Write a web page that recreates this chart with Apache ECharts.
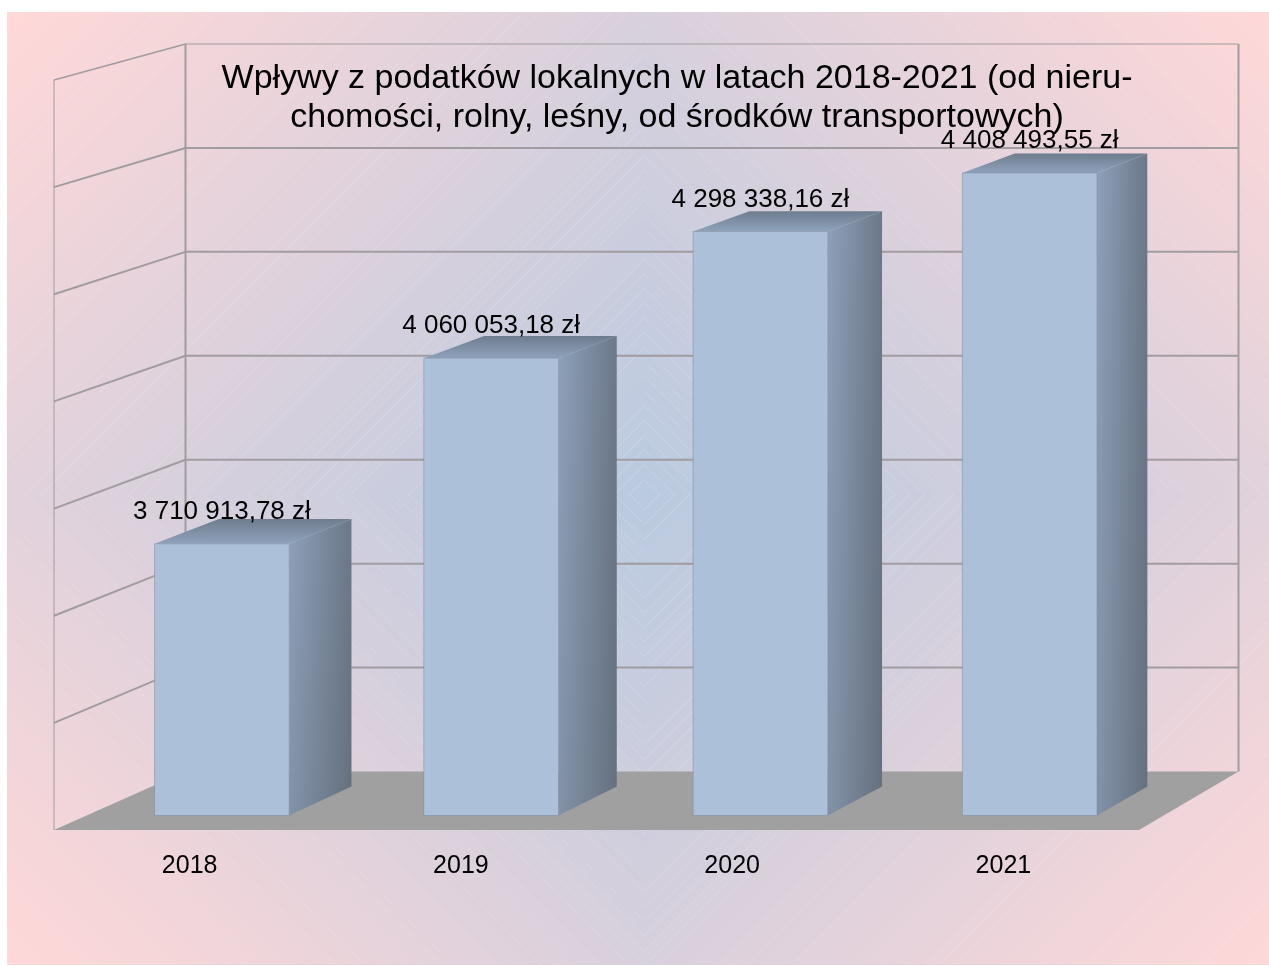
<!DOCTYPE html>
<html>
<head>
<meta charset="utf-8">
<title>Wpływy z podatków lokalnych</title>
<script src="https://cdn.jsdelivr.net/npm/echarts@6/dist/echarts.min.js"></script>
<style>
  html, body { margin: 0; padding: 0; background: #fff; }
  #chart { width: 1269px; height: 966px; }
</style>
</head>
<body>
<div id="chart"></div>
<script>
// =====================================================================================================================
// DONNEES

var years = ['2018', '2019', '2020', '2021'];
var revenues = [3710913.78, 4060053.18, 4298338.16, 4408493.55];
var gridValues = [3200000, 3400000, 3600000, 3800000, 4000000, 4200000, 4400000, 4600000];
var chartTitle = 'Wpływy z podatków lokalnych w latach 2018-2021 (od nieru-\nchomości, rolny, leśny, od środków transportowych)';

var fontFamily = '"Liberation Sans", Arial, sans-serif';
var color_line = '#a09ca0';
var color_floor = '#a0a0a0';

// =====================================================================================================================
// FOND : degrade en losange avec les fines lignes claires

function buildBackground() {
  var canvas = document.createElement('canvas');
  canvas.width = 1269;
  canvas.height = 966;
  var ctx = canvas.getContext('2d');
  var img = ctx.createImageData(1269, 966);
  for (var y = 0; y < 966; y++) {
    for (var x = 0; x < 1269; x++) {
      var p = (y * 1269 + x) * 4;
      var r = 255, g = 255, b = 255;
      if (x >= 7 && y >= 12 && y < 965) {
        var d = Math.abs(x - 644) + Math.abs(y - 494);
        var t = Math.min(d / 1105, 1);
        r = 186 + t * 69;
        g = 202 + t * 14;
        b = 224 - t * 8;
        // lignes de bandes
        if (d % 14.7 < 1 && (x + y) % 3 !== 0) {
          var a = 0.2 - t * 0.12;
          r += (255 - r) * a;
          g += (255 - g) * a;
          b += (255 - b) * a;
        }
      }
      img.data[p] = r;
      img.data[p + 1] = g;
      img.data[p + 2] = b;
      img.data[p + 3] = 255;
    }
  }
  ctx.putImageData(img, 0, 0);
  return canvas;
}

// =====================================================================================================================
// PERSPECTIVE : xf et h en fraction de la grille avant, depth de 0 (avant) a 1 (fond)

function project(xf, h, depth) {
  var left = 54 + 131.5 * depth;
  var right = 1139 + 99.5 * depth;
  var base = 830 - 58.5 * depth;
  var tall = 750 - 22.5 * depth;
  return [left + (right - left) * xf, base - tall * h];
}

function heightOf(params, api, value) {
  var rect = params.coordSys;
  return (rect.y + rect.height - api.coord([0, value])[1]) / rect.height;
}

function line(a, b, width, color) {
  return {
    type: 'line',
    shape: {x1: a[0], y1: a[1], x2: b[0], y2: b[1]},
    style: {stroke: color || color_line, lineWidth: width}
  };
}

function poly(points, fill, stroke) {
  return {
    type: 'polygon',
    shape: {points: points},
    style: {fill: fill, stroke: stroke || 'none', lineWidth: stroke ? 1 : 0}
  };
}

function formatZl(value) {
  var parts = value.toFixed(2).split('.');
  return parts[0].replace(/\B(?=(\d{3})+$)/g, ' ') + ',' + parts[1] + ' zł';
}

// =====================================================================================================================
// MURS

function renderWall(params, api) {
  var h = heightOf(params, api, api.value(0));
  var isTop = h > 0.999;
  var children = [];
  if (h > 0.001) {
    children.push(line(project(0, h, 0), project(0, h, 1), isTop ? 1.5 : 2));
    children.push(line(project(0, h, 1), project(1, h, 1), isTop ? 1 : 2));
  }
  return {type: 'group', children: children};
}

function renderFrame() {
  return {
    type: 'group',
    children: [
      line(project(0, 0, 0), project(0, 1, 0), 1),
      line(project(0, 0, 1), project(0, 1, 1), 2),
      line(project(1, 0, 1), project(1, 1, 1), 2),
      poly([project(0, 0, 0), project(0, 0, 1), project(1, 0, 1), project(1, 0, 0)], color_floor)
    ]
  };
}

// =====================================================================================================================
// BARRES 3D

var sideGradient = new echarts.graphic.LinearGradient(0, 0, 1, 0, [
  {offset: 0, color: '#8ea1ba'},
  {offset: 1, color: '#6c7889'}
]);
var sideShade = new echarts.graphic.LinearGradient(0, 0, 0, 1, [
  {offset: 0, color: 'rgba(60,60,60,0)'},
  {offset: 1, color: 'rgba(60,60,60,0.14)'}
]);
var topGradient = new echarts.graphic.LinearGradient(0, 1, 0, 0, [
  {offset: 0, color: '#8ea2bc'},
  {offset: 1, color: '#6f7c8e'}
]);

function renderBar(params, api) {
  var rect = params.coordSys;
  var value = api.value(1);
  var top = api.coord([api.value(0), value]);
  var cx = (top[0] - rect.x) / rect.width + 0.0006;
  var half = api.size([1, 0])[0] / rect.width / 4;
  var h = heightOf(params, api, value);
  var front = 0.248;
  var back = 0.744;
  var fl = project(cx - half, h, front);
  var fr = project(cx + half, h, front);
  var flb = project(cx - half, 0, front);
  var frb = project(cx + half, 0, front);
  var bl = project(cx - half, h, back);
  var br = project(cx + half, h, back);
  var brb = project(cx + half, 0, back);
  var edge = 'rgba(125,135,150,0.5)';
  return {
    type: 'group',
    children: [
      poly([frb, fr, br, brb], sideGradient),
      poly([frb, fr, br, brb], sideShade),
      poly([fl, fr, br, bl], topGradient),
      poly([flb, fl, fr, frb], '#adc0da', edge),
      {
        type: 'text',
        z2: 10,
        style: {
          x: (fl[0] + fr[0]) / 2,
          y: fl[1] - 32,
          text: formatZl(value),
          fontSize: 26,
          fontFamily: fontFamily,
          fill: '#000',
          align: 'center',
          verticalAlign: 'middle'
        }
      }
    ]
  };
}

// =====================================================================================================================
// GRAPHIQUE

var chart = echarts.init(document.getElementById('chart'), null, {renderer: 'canvas'});
var option = {
  animation: false,
  backgroundColor: {image: buildBackground(), repeat: 'no-repeat'},
  title: {
    text: chartTitle,
    left: 672,
    top: 54,
    textAlign: 'center',
    z: 20,
    textStyle: {
      fontFamily: fontFamily,
      fontSize: 34,
      fontWeight: 'normal',
      lineHeight: 39,
      color: '#000'
    }
  },
  grid: {left: 54, right: 130, top: 80, bottom: 136},
  xAxis: {
    type: 'category',
    data: years,
    axisLine: {show: false},
    axisTick: {show: false},
    splitLine: {show: false},
    axisLabel: {
      margin: 24,
      color: '#000',
      fontFamily: fontFamily,
      fontSize: 25
    }
  },
  yAxis: {
    type: 'value',
    min: 3200000,
    max: 4600000,
    interval: 200000,
    show: false
  },
  series: [
    {
      type: 'custom',
      z: 1,
      silent: true,
      data: gridValues.map(function (v) { return [v]; }),
      encode: {y: 0},
      renderItem: renderWall
    },
    {
      type: 'custom',
      z: 2,
      silent: true,
      data: [[gridValues[0]]],
      encode: {y: 0},
      renderItem: renderFrame
    },
    {
      type: 'custom',
      name: 'Wpływy',
      z: 3,
      data: years.map(function (y, i) { return [i, revenues[i]]; }),
      encode: {x: 0, y: 1},
      renderItem: renderBar
    }
  ]
};
chart.setOption(option);
</script>
</body>
</html>
